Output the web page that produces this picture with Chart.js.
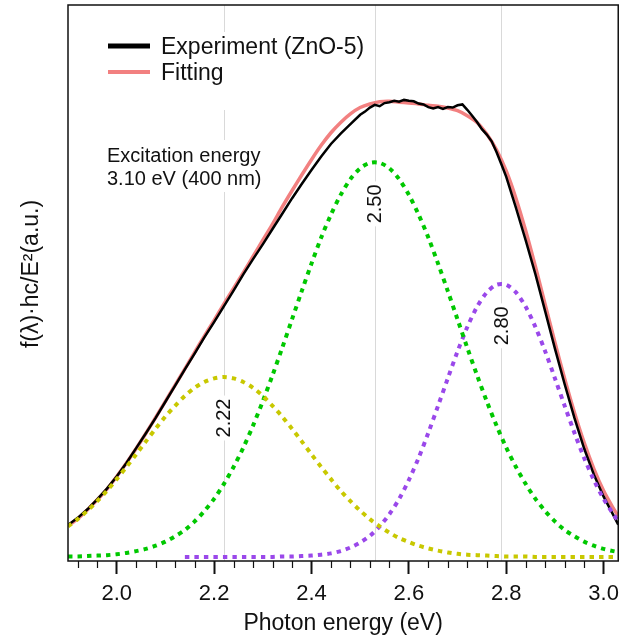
<!DOCTYPE html>
<html>
<head>
<meta charset="utf-8">
<script src="https://cdn.jsdelivr.net/npm/chart.js@4.4.1/dist/chart.umd.min.js"></script>
<style>
  html, body { margin: 0; padding: 0; background: #fff; }
  #wrap { width: 626px; height: 641px; position: relative; }
</style>
</head>
<body>
<div id="wrap"><canvas id="chart"></canvas></div>
<script>
// ── Dados ────────────────────────────────────────────────────
const energyGrid = [1.90, 1.92, 1.94, 1.96, 1.98, 2.00, 2.02, 2.04, 2.06, 2.08,
  2.10, 2.12, 2.14, 2.16, 2.18, 2.20, 2.22, 2.24, 2.26, 2.28,
  2.30, 2.32, 2.34, 2.36, 2.38, 2.40, 2.42, 2.44, 2.46, 2.48,
  2.50, 2.52, 2.54, 2.56, 2.58, 2.60, 2.62, 2.64, 2.66, 2.68,
  2.70, 2.72, 2.74, 2.76, 2.78, 2.80, 2.82, 2.84, 2.86, 2.88,
  2.90, 2.92, 2.94, 2.96, 2.98, 3.00, 3.02, 3.03];

const fitValues = [0.069, 0.085, 0.105, 0.127, 0.151, 0.179, 0.209, 0.241, 0.275, 0.310,
  0.346, 0.382, 0.418, 0.455, 0.491, 0.526, 0.562, 0.597, 0.632, 0.668,
  0.704, 0.740, 0.778, 0.814, 0.849, 0.883, 0.915, 0.943, 0.966, 0.985,
  0.999, 1.007, 1.012, 1.013, 1.011, 1.009, 1.007, 1.004, 1.002, 0.998,
  0.992, 0.981, 0.966, 0.940, 0.905, 0.858, 0.797, 0.725, 0.645, 0.561,
  0.477, 0.396, 0.321, 0.254, 0.196, 0.147, 0.108, 0.091];

const peak222 = [0.068, 0.084, 0.103, 0.124, 0.147, 0.173, 0.200, 0.228, 0.257, 0.285,
  0.312, 0.336, 0.358, 0.376, 0.389, 0.397, 0.400, 0.397, 0.389, 0.376,
  0.358, 0.336, 0.312, 0.285, 0.257, 0.228, 0.200, 0.173, 0.147, 0.124,
  0.103, 0.084, 0.068, 0.054, 0.042, 0.033, 0.025, 0.019, 0.014, 0.010,
  0.007, 0.005, 0.004, 0.003, 0.002, 0.001, 0.001, 0.001, 0, 0,
  0, 0, 0, 0, 0, 0, 0, 0];

const peak250 = [0.001, 0.001, 0.002, 0.003, 0.004, 0.006, 0.009, 0.013, 0.018, 0.025,
  0.034, 0.046, 0.060, 0.079, 0.102, 0.129, 0.162, 0.200, 0.243, 0.292,
  0.346, 0.404, 0.465, 0.528, 0.591, 0.652, 0.710, 0.761, 0.805, 0.840,
  0.864, 0.876, 0.876, 0.864, 0.840, 0.805, 0.761, 0.710, 0.652, 0.591,
  0.528, 0.465, 0.404, 0.346, 0.292, 0.243, 0.200, 0.162, 0.129, 0.102,
  0.079, 0.060, 0.046, 0.034, 0.025, 0.018, 0.013, 0.011];

const peak280 = [null, null, null, null, null, null, null, null, null, null,
  null, null, 0, 0, 0, 0, 0, 0, 0, 0,
  0, 0, 0.001, 0.001, 0.002, 0.003, 0.005, 0.008, 0.013, 0.021,
  0.032, 0.047, 0.068, 0.095, 0.129, 0.171, 0.220, 0.276, 0.336, 0.397,
  0.457, 0.511, 0.556, 0.588, 0.605, 0.605, 0.588, 0.556, 0.511, 0.457,
  0.397, 0.336, 0.276, 0.220, 0.171, 0.129, 0.095, 0.080];

const expEnergy = [1.90, 1.92, 1.94, 1.96, 1.98, 2.00, 2.02, 2.04, 2.06, 2.08,
  2.10, 2.12, 2.14, 2.16, 2.18, 2.20, 2.22, 2.24, 2.26, 2.28,
  2.30, 2.32, 2.34, 2.36, 2.38, 2.40, 2.42, 2.44, 2.46, 2.48,
  2.50, 2.51, 2.52, 2.53, 2.54, 2.55, 2.56, 2.57, 2.58, 2.59,
  2.60, 2.61, 2.62, 2.63, 2.64, 2.65, 2.66, 2.67, 2.68, 2.69,
  2.70, 2.71, 2.72, 2.73, 2.74, 2.75, 2.76, 2.77, 2.78, 2.79,
  2.80, 2.82, 2.84, 2.86, 2.88, 2.90, 2.92, 2.94, 2.96, 2.98,
  3.00, 3.02, 3.03];

const expValues = [0.071, 0.087, 0.106, 0.128, 0.152, 0.179, 0.209, 0.242, 0.275, 0.309,
  0.345, 0.381, 0.417, 0.452, 0.488, 0.522, 0.557, 0.592, 0.628, 0.662,
  0.695, 0.729, 0.763, 0.797, 0.829, 0.860, 0.890, 0.918, 0.941, 0.962,
  0.983, 0.990, 0.999, 1.005, 1.002, 1.009, 1.011, 1.014, 1.012, 1.016,
  1.014, 1.013, 1.008, 1.006, 1.000, 0.997, 1.000, 0.996, 1.000, 0.999,
  1.004, 1.006, 0.994, 0.981, 0.967, 0.951, 0.939, 0.924, 0.900, 0.873,
  0.845, 0.776, 0.704, 0.628, 0.546, 0.463, 0.384, 0.309, 0.241, 0.183,
  0.134, 0.093, 0.072];

const tickValues = [2.0, 2.2, 2.4, 2.6, 2.8, 3.0];
const peakPositions = [2.22, 2.53, 2.79];
const peakLabels = ['2.22', '2.50', '2.80'];
const legendLabels = ['Experiment (ZnO-5)', 'Fitting'];
const noteLines = ['Excitation energy', '3.10 eV (400 nm)'];

// ── Estilo ───────────────────────────────────────────────────
const FONT = "'Liberation Sans', Arial, sans-serif";
const COLORS = {
  exp:    '#000000',
  fit:    '#f28080',
  yellow: '#c8c800',
  green:  '#00c800',
  purple: '#9a48ea',
  grid:   '#d9d9d9',
  text:   '#111111'
};

Chart.defaults.font.family = FONT;
Chart.defaults.color = COLORS.text;

const toPoints = (xs, ys) => xs.map((x, i) => ({ x, y: ys[i] }));
const peakTops = [peak222, peak250, peak280].map(a => Math.max(...a.filter(v => v !== null)));

const dotted = (data, color) => ({
  data,
  borderColor: color,
  borderWidth: 4,
  borderDash: [4.5, 5],
  borderCapStyle: 'butt',
  pointRadius: 0,
  tension: 0.3,
  fill: false
});

// ── Plugin: linhas de pico, legenda, nota, moldura ───────────
const decor = {
  id: 'decor',
  beforeDatasetsDraw(chart) {
    const { ctx, chartArea: a, scales: { x, y } } = chart;
    ctx.save();

    ctx.strokeStyle = COLORS.grid;
    ctx.lineWidth = 1;
    peakPositions.forEach(p => {
      const px = Math.round(x.getPixelForValue(p)) + 0.5;
      ctx.beginPath(); ctx.moveTo(px, a.top); ctx.lineTo(px, a.bottom); ctx.stroke();
    });

    // caixas brancas da legenda e da nota
    ctx.fillStyle = '#fff';
    ctx.fillRect(96, 32, 274, 78);
    ctx.fillRect(100, 140, 170, 52);

    // legenda
    [[COLORS.exp, 5, 46], [COLORS.fit, 4, 72]].forEach(([c, w, ly], i) => {
      ctx.strokeStyle = c; ctx.lineWidth = w;
      ctx.beginPath(); ctx.moveTo(108, ly); ctx.lineTo(150, ly); ctx.stroke();
      ctx.fillStyle = COLORS.text;
      ctx.font = `23px ${FONT}`;
      ctx.textBaseline = 'alphabetic';
      ctx.fillText(legendLabels[i], 161, ly + 8);
    });

    // nota
    ctx.font = `20px ${FONT}`;
    noteLines.forEach((t, i) => ctx.fillText(t, 107, 162 + i * 23));

    // rótulos dos picos
    ctx.font = `20px ${FONT}`;
    peakPositions.forEach((p, i) => {
      const px = x.getPixelForValue(p);
      const py = y.getPixelForValue(peakTops[i]) + 41;
      ctx.save();
      ctx.translate(px, py);
      ctx.rotate(-Math.PI / 2);
      const w = ctx.measureText(peakLabels[i]).width;
      ctx.fillStyle = '#fff';
      ctx.fillRect(-w / 2 - 3, -10, w + 6, 20);
      ctx.fillStyle = COLORS.text;
      ctx.textAlign = 'center';
      ctx.textBaseline = 'middle';
      ctx.fillText(peakLabels[i], 0, 1);
      ctx.restore();
    });
    ctx.restore();
  },
  afterDraw(chart) {
    const { ctx, chartArea: a, scales: { x } } = chart;
    ctx.save();

    // ticks menores (0.04 eV)
    ctx.strokeStyle = COLORS.text;
    ctx.lineWidth = 1.2;
    for (let k = 48; k * 0.04 <= x.max + 1e-9; k++) {
      if (k % 5 === 0) continue;
      const px = Math.round(x.getPixelForValue(k * 0.04)) + 0.5;
      ctx.beginPath(); ctx.moveTo(px, a.bottom); ctx.lineTo(px, a.bottom + 7); ctx.stroke();
    }

    // moldura
    ctx.lineWidth = 1.5;
    ctx.strokeRect(a.left, a.top, a.right - a.left, a.bottom - a.top);

    // título do eixo y
    ctx.translate(32, 274);
    ctx.rotate(-Math.PI / 2);
    ctx.fillStyle = COLORS.text;
    ctx.font = `23px ${FONT}`;
    ctx.textAlign = 'center';
    ctx.textBaseline = 'middle';
    ctx.fillText('f(\u03bb)\u00b7hc/E\u00b2(a.u.)', 0, 0);
    ctx.restore();
  }
};

new Chart(document.getElementById('chart'), {
  type: 'line',
  data: {
    datasets: [
      dotted(toPoints(energyGrid, peak222), COLORS.yellow),
      dotted(toPoints(energyGrid, peak250), COLORS.green),
      dotted(toPoints(energyGrid, peak280), COLORS.purple),
      {
        label: legendLabels[0],
        data: toPoints(expEnergy, expValues),
        borderColor: COLORS.exp,
        borderWidth: 2.5,
        pointRadius: 0,
        tension: 0
      },
      {
        label: legendLabels[1],
        data: toPoints(energyGrid, fitValues),
        borderColor: COLORS.fit,
        borderWidth: 3.5,
        pointRadius: 0,
        tension: 0.3
      }
    ]
  },
  options: {
    responsive: true,
    maintainAspectRatio: false,
    animation: false,
    layout: { padding: { left: 0, top: 5, right: 3, bottom: 0 } },
    plugins: { legend: { display: false }, tooltip: { enabled: false } },
    scales: {
      x: {
        type: 'linear',
        min: 1.9,
        max: 3.03,
        afterBuildTicks: s => { s.ticks = tickValues.map(v => ({ value: v })); },
        afterFit: s => { s.height = 80; },
        ticks: {
          padding: 7,
          font: { size: 22 },
          color: COLORS.text,
          callback: v => v.toFixed(1)
        },
        grid: {
          drawOnChartArea: false,
          tickLength: 13,
          tickWidth: 2,
          tickColor: COLORS.text
        },
        border: { display: false },
        title: {
          display: true,
          text: 'Photon energy (eV)',
          font: { size: 23 },
          color: COLORS.text,
          padding: { top: 0, bottom: 4 }
        }
      },
      y: {
        min: -0.009,
        max: 1.227,
        afterFit: s => { s.width = 68; },
        ticks: { display: false },
        grid: { display: false },
        border: { display: false }
      }
    }
  },
  plugins: [decor]
});
</script>
</body>
</html>
